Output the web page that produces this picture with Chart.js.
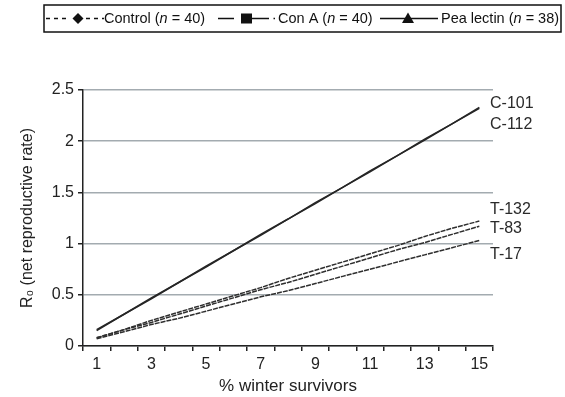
<!DOCTYPE html>
<html>
<head>
<meta charset="utf-8">
<script src="https://cdn.jsdelivr.net/npm/chart.js@4/dist/chart.umd.min.js"></script>
<style>
  html, body { margin: 0; padding: 0; background: #fff; }
  #wrap { width: 565px; height: 397px; }
</style>
</head>
<body>
<div id="wrap"><canvas id="grafico" width="565" height="397"></canvas></div>
<script>
// % winter survivors (categorias do eixo x)
const survivors = ['1', '2', '3', '4', '5', '6', '7', '8', '9', '10', '11', '12', '13', '14', '15'];

const c101 = [0.16, 0.31, 0.47, 0.62, 0.78, 0.93, 1.09, 1.24, 1.40, 1.55, 1.71, 1.86, 2.02, 2.17, 2.33];
const c112 = [0.15, 0.31, 0.46, 0.62, 0.77, 0.93, 1.08, 1.24, 1.39, 1.55, 1.70, 1.86, 2.01, 2.17, 2.32];
const t132 = [0.08, 0.16, 0.25, 0.33, 0.41, 0.49, 0.57, 0.66, 0.74, 0.82, 0.90, 0.98, 1.07, 1.15, 1.22];
const t83  = [0.08, 0.16, 0.23, 0.31, 0.39, 0.47, 0.55, 0.62, 0.70, 0.78, 0.86, 0.94, 1.01, 1.09, 1.17];
const t17  = [0.07, 0.14, 0.21, 0.27, 0.34, 0.41, 0.48, 0.54, 0.61, 0.68, 0.75, 0.82, 0.89, 0.96, 1.03];

const yTicks = [0, 0.5, 1, 1.5, 2, 2.5];

const FONTE = 'Arial, "Liberation Sans", sans-serif';

// rotulos no fim das linhas (texto + deslocamento vertical em px)
const rotulos = [
  { txt: 'C-101', ds: 0, dy: -4 },
  { txt: 'C-112', ds: 1, dy: 16 },
  { txt: 'T-132', ds: 2, dy: -11 },
  { txt: 'T-83',  ds: 3, dy: 2 },
  { txt: 'T-17',  ds: 4, dy: 14 }
];

const pluginRotulos = {
  id: 'rotulos',
  afterDatasetsDraw(chart) {
    const ctx = chart.ctx;
    const y = chart.scales.y;
    ctx.save();
    ctx.font = '16px ' + FONTE;
    ctx.fillStyle = '#2a2a2a';
    ctx.textAlign = 'left';
    ctx.textBaseline = 'middle';
    rotulos.forEach(r => {
      const dados = chart.data.datasets[r.ds].data;
      const py = y.getPixelForValue(dados[dados.length - 1]) + r.dy;
      ctx.fillText(r.txt, chart.chartArea.right - 3, py);
    });
    ctx.restore();
  }
};

// legenda desenhada a mao (caixa no topo)
function textoMisto(ctx, partes, x, y) {
  partes.forEach((p, i) => {
    ctx.font = (i === 1 ? 'italic ' : '') + '14.5px ' + FONTE;
    ctx.fillText(p, x, y);
    x += ctx.measureText(p).width;
  });
}

const pluginLegenda = {
  id: 'legendaCaixa',
  afterDraw(chart) {
    const ctx = chart.ctx;
    const cy = 18.5;
    ctx.save();
    ctx.strokeStyle = '#111';
    ctx.lineWidth = 1.5;
    ctx.strokeRect(44, 5, 517, 27);

    ctx.fillStyle = '#111';
    ctx.textBaseline = 'middle';
    ctx.textAlign = 'left';

    // Control: tracejado + losango
    ctx.lineWidth = 1.5;
    ctx.setLineDash([4, 4]);
    ctx.beginPath(); ctx.moveTo(46, cy); ctx.lineTo(70, cy); ctx.stroke();
    ctx.beginPath(); ctx.moveTo(86, cy); ctx.lineTo(104, cy); ctx.stroke();
    ctx.setLineDash([]);
    ctx.beginPath();
    ctx.moveTo(78, cy - 5.5); ctx.lineTo(83.5, cy); ctx.lineTo(78, cy + 5.5); ctx.lineTo(72.5, cy);
    ctx.closePath(); ctx.fill();
    textoMisto(ctx, ['Control (', 'n', ' = 40)'], 104, cy);

    // Con A: traco longo + quadrado + ponto
    ctx.beginPath(); ctx.moveTo(218, cy); ctx.lineTo(234, cy); ctx.stroke();
    ctx.fillRect(241, cy - 5, 11, 10);
    ctx.beginPath(); ctx.moveTo(252, cy); ctx.lineTo(269, cy); ctx.stroke();
    ctx.fillRect(273.5, cy - 0.75, 1.5, 1.5);
    textoMisto(ctx, ['Con A (', 'n', ' = 40)'], 278, cy);

    // Pea lectin: solido + triangulo
    ctx.beginPath(); ctx.moveTo(380, cy); ctx.lineTo(438, cy); ctx.stroke();
    ctx.beginPath();
    ctx.moveTo(408, cy - 6); ctx.lineTo(414, cy + 4.5); ctx.lineTo(402, cy + 4.5);
    ctx.closePath(); ctx.fill();
    textoMisto(ctx, ['Pea lectin (', 'n', ' = 38)'], 441, cy);
    ctx.restore();
  }
};

function serie(dados, cor, tracejado) {
  return {
    data: dados,
    borderColor: cor,
    borderWidth: 1.5,
    borderDash: tracejado,
    pointRadius: 0,
    tension: 0,
    fill: false
  };
}

const ctxLinha = document.getElementById('grafico').getContext('2d');
const grafico = new Chart(ctxLinha, {
  type: 'line',
  data: {
    labels: survivors,
    datasets: [
      serie(c101, '#262626', []),
      serie(c112, '#262626', []),
      serie(t132, '#2e2e2e', [5, 1]),
      serie(t83, '#2e2e2e', [5, 1]),
      serie(t17, '#2e2e2e', [5, 1])
    ]
  },
  options: {
    responsive: false,
    animation: false,
    devicePixelRatio: 1,
    layout: { padding: { top: 90, right: 72, bottom: 0, left: 0 } },
    plugins: {
      legend: { display: false },
      tooltip: { enabled: false }
    },
    scales: {
      x: {
        type: 'category',
        offset: true,
        grid: { offset: true, drawOnChartArea: false, drawTicks: true, tickLength: 5, tickColor: '#222', lineWidth: 1.5 },
        border: { color: '#222', width: 1.5 },
        ticks: {
          autoSkip: false, maxRotation: 0, padding: 4, color: '#222',
          font: { size: 16, family: FONTE },
          callback: (v, i) => (i % 2 === 0 ? survivors[i] : '')
        },
        title: {
          display: true, text: '% winter survivors', color: '#222',
          font: { size: 17, family: FONTE }, padding: { top: 0, bottom: 0 }
        },
        afterFit: s => { s.height = 51; }
      },
      y: {
        min: 0, max: 2.5,
        afterBuildTicks: s => { s.ticks = yTicks.map(v => ({ value: v })); },
        grid: { color: '#a3abb0', lineWidth: 1.5, tickColor: '#222', tickLength: 5 },
        border: { color: '#222', width: 1.5 },
        ticks: {
          padding: 4, color: '#222',
          font: { size: 16, family: FONTE },
          callback: v => String(v)
        },
        title: {
          display: true, text: 'R\u2080 (net reproductive rate)', color: '#222',
          font: { size: 16, family: FONTE }, padding: { top: 18, bottom: 0 }
        },
        afterFit: s => { s.width = 83; }
      }
    }
  },
  plugins: [pluginRotulos, pluginLegenda]
});
</script>
</body>
</html>
